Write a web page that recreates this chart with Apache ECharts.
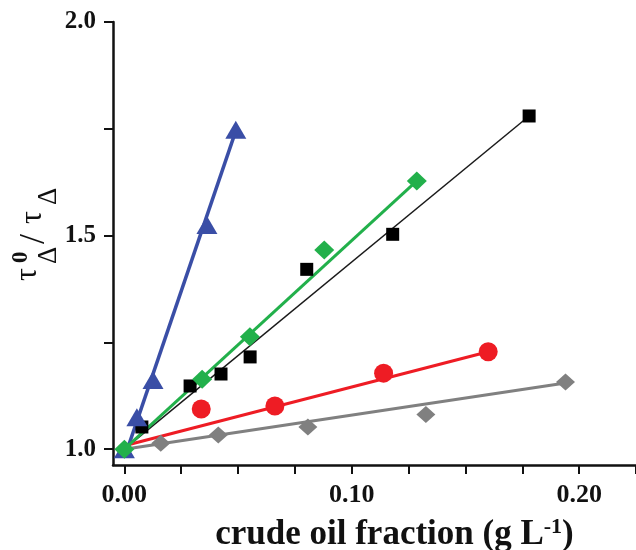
<!DOCTYPE html>
<html>
<head>
<meta charset="utf-8">
<script src="https://cdn.jsdelivr.net/npm/echarts@6/dist/echarts.min.js"></script>
<style>
  html, body { margin: 0; padding: 0; background: #fff; }
  #chart { width: 636px; height: 550px; }
</style>
</head>
<body>
<div id="chart"></div>
<script>
// measured points (x: g/L, y: tau0/tau)
const blackX = [0.0077, 0.0289, 0.0425, 0.0553, 0.0802, 0.118, 0.178]
const blackY = [1.052, 1.148, 1.176, 1.216, 1.421, 1.503, 1.780]
const blueX = [0, 0.0055, 0.0126, 0.0363, 0.049]
const blueY = [1.0, 1.075, 1.162, 1.525, 1.748]
const greenX = [0, 0.0342, 0.0552, 0.0879, 0.1286]
const greenY = [1.0, 1.164, 1.263, 1.466, 1.628]
const redX = [0.0338, 0.0662, 0.114, 0.160]
const redY = [1.094, 1.101, 1.178, 1.228]
const greyX = [0.016, 0.0413, 0.0807, 0.1326, 0.194]
const greyY = [1.014, 1.033, 1.052, 1.081, 1.157]

// linear fits, start / end
const blackFitX = [0, 0.178]
const blackFitY = [1.0, 1.78]
const blueFitX = [0.001, 0.049]
const blueFitY = [0.995, 1.745]
const greenFitX = [0, 0.1286]
const greenFitY = [1.0, 1.628]
const redFitX = [0, 0.160]
const redFitY = [1.008, 1.228]
const greyFitX = [0, 0.194]
const greyFitY = [1.0, 1.155]

// axis ticks
const xTicks = [0, 0.025, 0.05, 0.075, 0.1, 0.125, 0.15, 0.175, 0.2, 0.225]
const xLabels = [0, 0.1, 0.2]
const yTicks = [1.0, 1.25, 1.5, 1.75, 2.0]
const yLabels = [1.0, 1.5, 2.0]

const FONT = '"Liberation Serif", "DejaVu Serif", serif'

function pairs (xs, ys) {
  return xs.map((x, i) => [x, ys[i]])
}

function fitLine (xs, ys, color, width) {
  return {
    type: 'line',
    data: pairs(xs, ys),
    showSymbol: false,
    silent: true,
    z: 2,
    lineStyle: { color: color, width: width }
  }
}

function points (xs, ys, color, symbol, size) {
  return {
    type: 'scatter',
    data: pairs(xs, ys),
    symbol: symbol,
    symbolSize: size,
    z: 3,
    itemStyle: { color: color, opacity: 1 }
  }
}

let myChart = echarts.init(document.getElementById('chart'), null, { renderer: 'canvas' })

myChart.setOption({
  animation: false,
  grid: {
    left: 113,
    top: 22,
    right: 0,
    bottom: 85,
    containLabel: false,
    outerBoundsMode: 'none'
  },
  xAxis: {
    type: 'value',
    min: -0.005,
    max: 0.225,
    splitLine: { show: false },
    axisLine: { onZero: false, lineStyle: { color: '#111', width: 2.5 } },
    axisTick: { customValues: xTicks, length: 9, lineStyle: { color: '#111', width: 2 } },
    axisLabel: {
      customValues: xLabels,
      formatter: v => v.toFixed(2),
      margin: 17,
      color: '#111',
      fontFamily: FONT,
      fontWeight: 'bold',
      fontSize: 26
    },
    name: 'crude oil fraction (g L{sup|-1})',
    nameLocation: 'middle',
    nameGap: 51,
    nameTextStyle: {
      color: '#111',
      fontFamily: FONT,
      fontWeight: 'bold',
      fontSize: 35,
      padding: [0, 0, 0, 40],
      rich: {
        sup: {
          fontFamily: FONT,
          fontWeight: 'bold',
          fontSize: 22,
          color: '#111',
          padding: [0, 0, 16, 0]
        }
      }
    }
  },
  yAxis: {
    type: 'value',
    min: 0.963,
    max: 2.0,
    splitLine: { show: false },
    axisLine: { onZero: false, lineStyle: { color: '#111', width: 2.5 } },
    axisTick: { customValues: yTicks, length: 9, lineStyle: { color: '#111', width: 2 } },
    axisLabel: {
      customValues: yLabels,
      formatter: v => v.toFixed(1),
      margin: 17,
      color: '#111',
      fontFamily: FONT,
      fontWeight: 'bold',
      fontSize: 25
    }
  },
  graphic: [{
    type: 'group',
    x: 38,
    y: 281,
    rotation: Math.PI / 2,
    children: [
      { type: 'text', x: 0, y: -10, style: { text: 'τ', font: '32px ' + FONT, fill: '#111', verticalAlign: 'middle' } },
      { type: 'text', x: 18, y: -17, style: { text: '0', font: 'bold 23px ' + FONT, fill: '#111', verticalAlign: 'middle' } },
      { type: 'text', x: 17, y: 11, style: { text: 'Δ', font: '27px ' + FONT, fill: '#111', verticalAlign: 'middle' } },
      { type: 'text', x: 37, y: -3, style: { text: '/', font: '36px ' + FONT, fill: '#111', verticalAlign: 'middle' } },
      { type: 'text', x: 57, y: -5, style: { text: 'τ', font: '32px ' + FONT, fill: '#111', verticalAlign: 'middle' } },
      { type: 'text', x: 76, y: 11, style: { text: 'Δ', font: '27px ' + FONT, fill: '#111', verticalAlign: 'middle' } }
    ]
  }],
  series: [
    fitLine(blackFitX, blackFitY, '#1a1a1a', 1.5),
    fitLine(greyFitX, greyFitY, '#808080', 3),
    fitLine(redFitX, redFitY, '#ee1c24', 3),
    fitLine(blueFitX, blueFitY, '#3a4ea6', 3.5),
    fitLine(greenFitX, greenFitY, '#22b04b', 3),
    points(blackX, blackY, '#000', 'rect', 13),
    points(greyX, greyY, '#808080', 'diamond', [19, 17]),
    points(redX, redY, '#ee1c24', 'circle', 19),
    points(blueX, blueY, '#3a4ea6', 'triangle', [21, 18]),
    points(greenX, greenY, '#22b04b', 'diamond', [20, 19])
  ]
})
</script>
</body>
</html>
